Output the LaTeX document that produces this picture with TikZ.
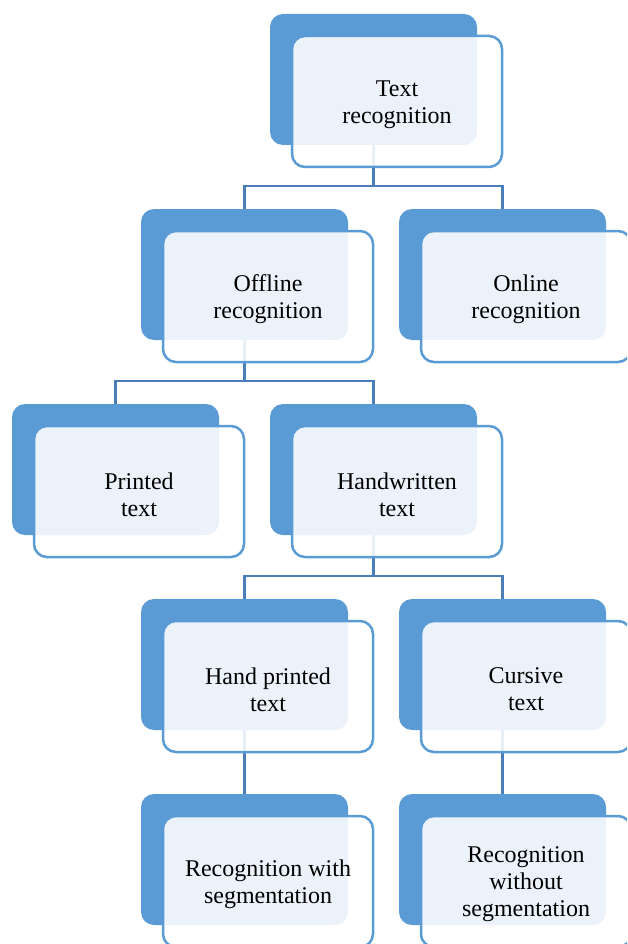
\documentclass[tikz,border=0pt]{standalone}
\usepackage{fontspec}
\setmainfont{Liberation Serif}
\pgfdeclarelayer{bg}
\pgfsetlayers{bg,main}
\definecolor{accent}{HTML}{5B9BD5}
\definecolor{linkblue}{HTML}{4A7EBB}
\tikzset{
  backbox/.style={rectangle, rounded corners=13pt, fill=accent, draw=none,
    minimum width=207pt, minimum height=131pt, inner sep=0pt, outer sep=0pt,
    anchor=north west},
  frontbox/.style={rectangle, rounded corners=13pt, draw=accent, line width=2.5pt,
    fill=white, fill opacity=0.88, outer sep=0pt,
    minimum width=210pt, minimum height=131pt, inner sep=0pt, anchor=north west},
  cardlabel/.style={inner sep=0pt, align=center, text=black,
    font=\fontsize{24}{27}\selectfont},
  link/.style={draw=linkblue, line width=2.5pt}
}
\begin{document}
\begin{tikzpicture}[x=1pt,y=1pt]
\useasboundingbox (0,0) rectangle (627,-944);
\clip (0,0) rectangle (627,-944);

% back plates
\node[backbox] (topB) at (270,-14) {};
\node[backbox] (offB) at (141,-209) {};
\node[backbox] (onB)  at (399,-209) {};
\node[backbox] (prB)  at (12,-404) {};
\node[backbox] (hwB)  at (270,-404) {};
\node[backbox] (hpB)  at (141,-599) {};
\node[backbox] (cuB)  at (399,-599) {};
\node[backbox] (wsB)  at (141,-794) {};
\node[backbox] (nsB)  at (399,-794) {};

% connectors (beneath the translucent front cards)
\begin{pgfonlayer}{bg}
\draw[link] (topB.south) -- ++(0,-41) -| (offB.north);
\draw[link] (topB.south) -- ++(0,-41) -| (onB.north);
\draw[link] (offB.south) -- ++(0,-41) -| (prB.north);
\draw[link] (offB.south) -- ++(0,-41) -| (hwB.north);
\draw[link] (hwB.south) -- ++(0,-41) -| (hpB.north);
\draw[link] (hwB.south) -- ++(0,-41) -| (cuB.north);
\draw[link] (hpB.south) -- (wsB.north);
\draw[link] (cuB.south) -- (nsB.north);
\end{pgfonlayer}

% front cards
\node[frontbox] (top) at (292,-36) {};
\node[frontbox] (off) at (163,-231) {};
\node[frontbox] (on)  at (421,-231) {};
\node[frontbox] (pr)  at (34,-426)  {};
\node[frontbox] (hw)  at (292,-426) {};
\node[frontbox] (hp)  at (163,-621) {};
\node[frontbox] (cu)  at (421,-621) {};
\node[frontbox] (ws)  at (163,-816) {};
\node[frontbox] (ns)  at (421,-816) {};

% labels
\node[cardlabel] (topT) at ([yshift=-3pt]top.center) {Text\\recognition};
\node[cardlabel] (offT) at ([yshift=-3pt]off.center) {Offline\\recognition};
\node[cardlabel] (onT)  at ([yshift=-3pt]on.center)  {Online\\recognition};
\node[cardlabel] (prT)  at ([yshift=-3pt]pr.center)  {Printed\\text};
\node[cardlabel] (hwT)  at ([yshift=-3pt]hw.center)  {Handwritten\\text};
\node[cardlabel] (hpT)  at ([yshift=-3pt]hp.center)  {Hand printed\\text};
\node[cardlabel] (cuT)  at ([yshift=-3pt]cu.center)  {Cursive\\text};
\node[cardlabel] (wsT)  at ([yshift=-3pt]ws.center)  {Recognition with\\segmentation};
\node[cardlabel] (nsT)  at ([yshift=-3pt]ns.center)  {Recognition\\without\\segmentation};
\end{tikzpicture}
\end{document}
